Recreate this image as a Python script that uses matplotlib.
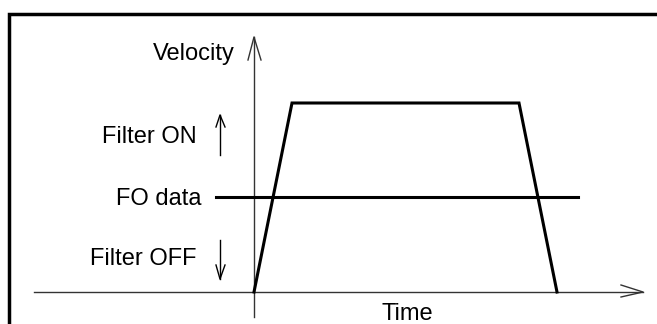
import matplotlib
matplotlib.use("Agg")
from matplotlib import pyplot as plt

# velocity profile (time, velocity) in drawing units, origin at axis crossing
prof_t = [0, 38, 265, 303]
prof_v = [0, 189, 189, 0]

# FO data threshold
fo_level = 95
fo_t = [-38, 324]

# axis extents
time_axis = [-220, 389]
vel_axis = [-25, 255]

labels = ["Velocity", "Filter ON", "FO data", "Filter OFF"]
label_t = [-19, -57, -52, -57]
label_v = [232, 149, 87, 27]

plt.rcParams['font.family'] = ['Liberation Sans', 'DejaVu Sans']

fig = plt.figure(figsize=(6.57, 3.24), dpi=100)
ax = fig.add_axes([0, 0, 1, 1])
ax.set_xlim(-254, 403)
ax.set_ylim(-32, 292)
ax.axis("off")

# frame (only top/left visible)
ax.plot([-245, -245, 420], [-50, 278, 278], color="black", lw=2.5,
        solid_joinstyle="miter")

# axes
ax.plot(time_axis, [0, 0], color="#333333", lw=1)
ax.plot([0, 0], vel_axis, color="#333333", lw=1)
ax.plot([time_axis[1] - 22, time_axis[1], time_axis[1] - 22], [7, 0, -5],
        color="#333333", lw=1)
ax.plot([-6, 0, 7], [vel_axis[1] - 23, vel_axis[1], vel_axis[1] - 23],
        color="#333333", lw=1)

# profile and threshold
ax.plot(prof_t, prof_v, color="black", lw=2.2, solid_joinstyle="miter")
ax.plot(fo_t, [fo_level, fo_level], color="black", lw=2.2)

# small direction arrows
ax.plot([-34, -34], [137, 177], color="black", lw=1)
ax.plot([-38, -34, -29], [165, 177, 165], color="black", lw=1)
ax.plot([-34, -34], [52, 13], color="black", lw=1)
ax.plot([-38, -34, -29], [27, 13, 27], color="black", lw=1)

for s, t, v in zip(labels, label_t, label_v):
    ax.text(t, v, s, ha="right", va="baseline", fontsize=17)

ax.text(128, -28, "Time", ha="left", va="baseline", fontsize=17)

fig.savefig("out.png", dpi=100)
